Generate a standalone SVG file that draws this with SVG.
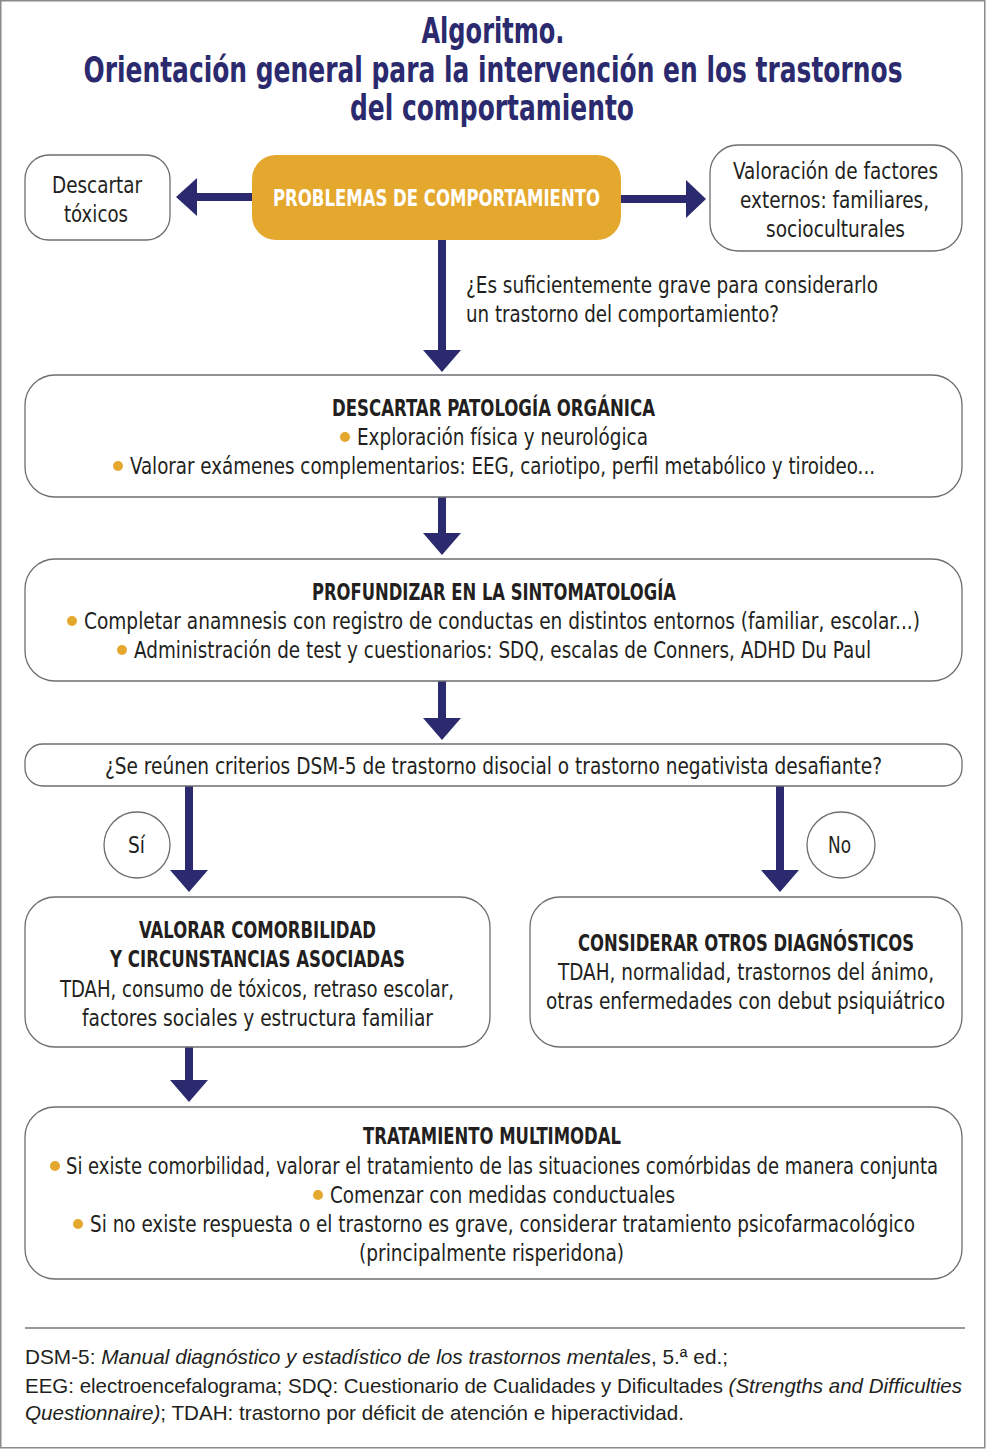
<svg xmlns="http://www.w3.org/2000/svg" width="986" height="1453" viewBox="0 0 986 1453">
<style>
.t{font-family:"Liberation Sans Narrow","DejaVu Sans Condensed","Roboto",sans-serif;font-stretch:condensed;fill:#231f20;font-size:23px}
.b{font-weight:bold}
.ttl{font-family:"Liberation Sans Narrow","DejaVu Sans Condensed","Roboto",sans-serif;font-stretch:condensed;font-weight:bold;fill:#2b2a6e;font-size:36px}
.box{fill:#fff;stroke:#6d6e70;stroke-width:1.3}
.ln{stroke:#2b2a6e;stroke-width:8;fill:none}
.hd{fill:#2b2a6e}
.dot{fill:#e5a82e}
.ft{font-family:"Liberation Sans Narrow","Liberation Sans",sans-serif;fill:#231f20;font-size:21px}
</style>
<rect x="0.75" y="0.75" width="984" height="1447" fill="#fff" stroke="#8a8a8a" stroke-width="1.5"/>
<g id="title">
<text class="ttl" x="493" y="43" text-anchor="middle" textLength="143" lengthAdjust="spacingAndGlyphs">Algoritmo.</text>
<text class="ttl" x="493" y="82" text-anchor="middle" textLength="819" lengthAdjust="spacingAndGlyphs">Orientación general para la intervención en los trastornos</text>
<text class="ttl" x="492" y="120" text-anchor="middle" textLength="284" lengthAdjust="spacingAndGlyphs">del comportamiento</text>
</g>
<g id="connectors">
<line class="ln" x1="252" y1="197" x2="194" y2="197"/>
<polygon class="hd" points="176,197 197,178 197,216"/>
<line class="ln" x1="621" y1="199" x2="688" y2="199"/>
<polygon class="hd" points="706,199 686,180 686,218"/>
<line class="ln" x1="442" y1="240" x2="442" y2="352"/>
<polygon class="hd" points="442,372 423,350 461,350"/>
<line class="ln" x1="442" y1="497" x2="442" y2="535"/>
<polygon class="hd" points="442,555 423,533 461,533"/>
<line class="ln" x1="442" y1="681" x2="442" y2="720"/>
<polygon class="hd" points="442,740 423,718 461,718"/>
<line class="ln" x1="189" y1="786" x2="189" y2="872"/>
<polygon class="hd" points="189,892 170,870 208,870"/>
<line class="ln" x1="780" y1="786" x2="780" y2="872"/>
<polygon class="hd" points="780,892 761,870 799,870"/>
<line class="ln" x1="189" y1="1047" x2="189" y2="1082"/>
<polygon class="hd" points="189,1102 170,1080 208,1080"/>
<text class="t" x="466" y="293" textLength="412" lengthAdjust="spacingAndGlyphs">¿Es suficientemente grave para considerarlo</text>
<text class="t" x="466" y="322" textLength="313" lengthAdjust="spacingAndGlyphs">un trastorno del comportamiento?</text>
</g>
<g id="n-problemas">
<rect x="252" y="155" width="369" height="85" rx="24" fill="#e5a82e"/>
<text class="t b" x="436.5" y="206" text-anchor="middle" style="fill:#fff" textLength="327" lengthAdjust="spacingAndGlyphs">PROBLEMAS DE COMPORTAMIENTO</text>
</g>
<g id="n-toxicos">
<rect class="box" x="25" y="155" width="145" height="85" rx="24"/>
<text class="t" x="97" y="193" text-anchor="middle" textLength="90" lengthAdjust="spacingAndGlyphs">Descartar</text>
<text class="t" x="96" y="222" text-anchor="middle" textLength="64" lengthAdjust="spacingAndGlyphs">tóxicos</text>
</g>
<g id="n-externos">
<rect class="box" x="710" y="145" width="252" height="106" rx="28"/>
<text class="t" x="835.5" y="179" text-anchor="middle" textLength="205" lengthAdjust="spacingAndGlyphs">Valoración de factores</text>
<text class="t" x="834.5" y="208" text-anchor="middle" textLength="189" lengthAdjust="spacingAndGlyphs">externos: familiares,</text>
<text class="t" x="835.5" y="237" text-anchor="middle" textLength="139" lengthAdjust="spacingAndGlyphs">socioculturales</text>
</g>
<g id="n-organica">
<rect class="box" x="25" y="375" width="937" height="122" rx="30"/>
<text class="t b" x="493.5" y="416" text-anchor="middle" textLength="323" lengthAdjust="spacingAndGlyphs">DESCARTAR PATOLOGÍA ORGÁNICA</text>
<circle class="dot" cx="345" cy="437" r="5"/>
<text class="t" x="357" y="445" textLength="291" lengthAdjust="spacingAndGlyphs">Exploración física y neurológica</text>
<circle class="dot" cx="118" cy="466" r="5"/>
<text class="t" x="130" y="474" textLength="745" lengthAdjust="spacingAndGlyphs">Valorar exámenes complementarios: EEG, cariotipo, perfil metabólico y tiroideo...</text>
</g>
<g id="n-sintomatologia">
<rect class="box" x="25" y="559" width="937" height="122" rx="30"/>
<text class="t b" x="494" y="600" text-anchor="middle" textLength="364" lengthAdjust="spacingAndGlyphs">PROFUNDIZAR EN LA SINTOMATOLOGÍA</text>
<circle class="dot" cx="72" cy="621" r="5"/>
<text class="t" x="84" y="629" textLength="836" lengthAdjust="spacingAndGlyphs">Completar anamnesis con registro de conductas en distintos entornos (familiar, escolar...)</text>
<circle class="dot" cx="122" cy="650" r="5"/>
<text class="t" x="134" y="658" textLength="737" lengthAdjust="spacingAndGlyphs">Administración de test y cuestionarios: SDQ, escalas de Conners, ADHD Du Paul</text>
</g>
<g id="n-criterios">
<rect class="box" x="25" y="744" width="937" height="42" rx="18"/>
<text class="t" x="105" y="774" textLength="777" lengthAdjust="spacingAndGlyphs">¿Se reúnen criterios DSM-5 de trastorno disocial o trastorno negativista desafiante?</text>
</g>
<g id="n-si">
<ellipse class="box" cx="137" cy="845" rx="33" ry="33"/>
<text class="t" x="136.5" y="853" text-anchor="middle" textLength="17" lengthAdjust="spacingAndGlyphs">Sí</text>
</g>
<g id="n-no">
<ellipse class="box" cx="841" cy="845" rx="34" ry="33"/>
<text class="t" x="839.5" y="853" text-anchor="middle" textLength="23" lengthAdjust="spacingAndGlyphs">No</text>
</g>
<g id="n-comorbilidad">
<rect class="box" x="25" y="897" width="465" height="150" rx="30"/>
<text class="t b" x="257.5" y="938" text-anchor="middle" textLength="237" lengthAdjust="spacingAndGlyphs">VALORAR COMORBILIDAD</text>
<text class="t b" x="257.5" y="967" text-anchor="middle" textLength="295" lengthAdjust="spacingAndGlyphs">Y CIRCUNSTANCIAS ASOCIADAS</text>
<text class="t" x="257" y="997" text-anchor="middle" textLength="394" lengthAdjust="spacingAndGlyphs">TDAH, consumo de tóxicos, retraso escolar,</text>
<text class="t" x="257.5" y="1026" text-anchor="middle" textLength="351" lengthAdjust="spacingAndGlyphs">factores sociales y estructura familiar</text>
</g>
<g id="n-otros">
<rect class="box" x="530" y="897" width="432" height="150" rx="30"/>
<text class="t b" x="746" y="951" text-anchor="middle" textLength="336" lengthAdjust="spacingAndGlyphs">CONSIDERAR OTROS DIAGNÓSTICOS</text>
<text class="t" x="746" y="980" text-anchor="middle" textLength="376" lengthAdjust="spacingAndGlyphs">TDAH, normalidad, trastornos del ánimo,</text>
<text class="t" x="745.5" y="1009" text-anchor="middle" textLength="399" lengthAdjust="spacingAndGlyphs">otras enfermedades con debut psiquiátrico</text>
</g>
<g id="n-tratamiento">
<rect class="box" x="25" y="1107" width="937" height="172" rx="30"/>
<text class="t b" x="492" y="1144" text-anchor="middle" textLength="258" lengthAdjust="spacingAndGlyphs">TRATAMIENTO MULTIMODAL</text>
<circle class="dot" cx="55" cy="1166" r="5"/>
<text class="t" x="66" y="1174" textLength="872" lengthAdjust="spacingAndGlyphs">Si existe comorbilidad, valorar el tratamiento de las situaciones comórbidas de manera conjunta</text>
<circle class="dot" cx="318" cy="1195" r="5"/>
<text class="t" x="330" y="1203" textLength="345" lengthAdjust="spacingAndGlyphs">Comenzar con medidas conductuales</text>
<circle class="dot" cx="78" cy="1224" r="5"/>
<text class="t" x="90" y="1232" textLength="825" lengthAdjust="spacingAndGlyphs">Si no existe respuesta o el trastorno es grave, considerar tratamiento psicofarmacológico</text>
<text class="t" x="491.5" y="1261" text-anchor="middle" textLength="265" lengthAdjust="spacingAndGlyphs">(principalmente risperidona)</text>
</g>
<g id="footer">
<line x1="25" y1="1328" x2="965" y2="1328" stroke="#777" stroke-width="1.3"/>
<text class="ft" x="25" y="1364" textLength="703" lengthAdjust="spacingAndGlyphs">DSM-5: <tspan font-style="italic">Manual diagnóstico y estadístico de los trastornos mentales</tspan>, 5.ª ed.;</text>
<text class="ft" x="25" y="1393" textLength="937" lengthAdjust="spacingAndGlyphs">EEG: electroencefalograma; SDQ: Cuestionario de Cualidades y Dificultades <tspan font-style="italic">(Strengths and Difficulties</tspan></text>
<text class="ft" x="25" y="1420" textLength="659" lengthAdjust="spacingAndGlyphs"><tspan font-style="italic">Questionnaire)</tspan>; TDAH: trastorno por déficit de atención e hiperactividad.</text>
</g>
</svg>
